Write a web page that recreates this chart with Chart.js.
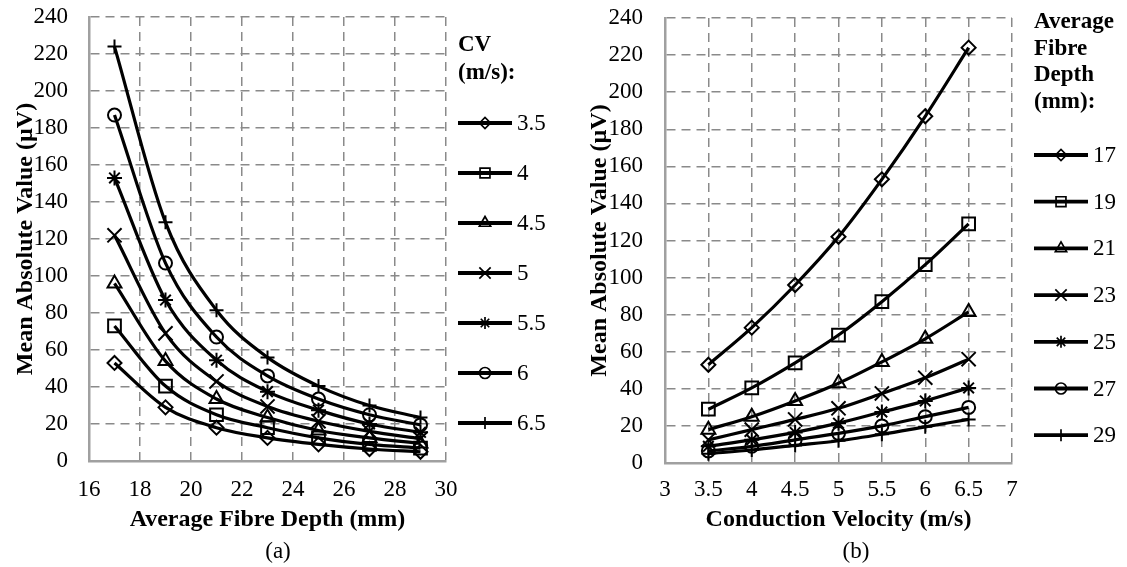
<!DOCTYPE html>
<html>
<head>
<meta charset="utf-8">
<script src="https://cdn.jsdelivr.net/npm/chart.js@4/dist/chart.umd.min.js"></script>
<style>
html,body{margin:0;padding:0;background:#fff;}
#wrap{position:relative;width:1127px;height:567px;overflow:hidden;background:#fff;}
canvas{position:absolute;top:0;}
#ca{left:0;}
#cb{left:563px;}
.cap{position:absolute;top:537px;width:100px;text-align:center;font-family:"Liberation Serif","Times New Roman",serif;font-size:23px;line-height:28px;color:#000;}
</style>
</head>
<body>
<div id="wrap">
<canvas id="ca" width="563" height="567"></canvas>
<canvas id="cb" width="564" height="567"></canvas>
<div class="cap" style="left:228px;">(a)</div>
<div class="cap" style="left:806px;">(b)</div>
</div>
<script>
// ---- data ----
const depths = [17, 19, 21, 23, 25, 27, 29];          // Average fibre depth (mm)
const cvs = [3.5, 4, 4.5, 5, 5.5, 6, 6.5];             // Conduction velocity (m/s)
// Mean absolute value (µV) for each depth, across cvs
const mavDepth17 = [53, 73, 96, 122, 153, 187, 224];
const mavDepth19 = [29, 40.5, 54, 69, 87, 107, 129];
const mavDepth21 = [18, 25, 33.5, 43, 54.5, 67, 81.5];
const mavDepth23 = [12.5, 18, 23.5, 29.5, 37.5, 46, 56];
const mavDepth25 = [9, 12.5, 16.5, 21.5, 27.5, 33.5, 40.5];
const mavDepth27 = [6.5, 9, 12.5, 16, 20, 25, 30];
const mavDepth29 = [5, 7, 9.5, 12, 15.5, 19.5, 23.5];
const mavRows = [mavDepth17, mavDepth19, mavDepth21, mavDepth23, mavDepth25, mavDepth27, mavDepth29];

const xTicksA = [16, 18, 20, 22, 24, 26, 28, 30];
const xTicksB = [3, 3.5, 4, 4.5, 5, 5.5, 6, 6.5, 7];
const yTicks = [0, 20, 40, 60, 80, 100, 120, 140, 160, 180, 200, 220, 240];

const legendTitleA = ['CV', '(m/s):'];
const legendTitleB = ['Average', 'Fibre', 'Depth', '(mm):'];

// ---- styling ----
const FONT = '"Liberation Serif", "Times New Roman", serif';
Chart.defaults.font.family = FONT;
Chart.defaults.color = '#000';
const markers = ['rectRot', 'rect', 'triangle', 'crossRot', 'star', 'circle', 'cross'];
const markerRadius = [7, 9, 8, 10, 7.5, 6.5, 7];
const legendRadius = [5.5, 7, 6.5, 8, 6, 5.5, 6];

function makeDataset(label, pts, i) {
  return {
    label: label,
    data: pts,
    borderColor: '#000',
    borderWidth: 3.2,
    pointStyle: markers[i],
    pointRadius: markerRadius[i],
    pointHoverRadius: markerRadius[i],
    pointBorderColor: '#000',
    pointBackgroundColor: 'rgba(0,0,0,0)',
    pointBorderWidth: 2,
    cubicInterpolationMode: 'monotone',
    fill: false,
    clip: false,
    legendRadius: legendRadius[i]
  };
}

// Chart (a): one series per CV, x = depth
const datasetsA = cvs.map((cv, j) =>
  makeDataset(String(cv), depths.map((d, i) => ({x: d, y: mavRows[i][j]})), j));
// Chart (b): one series per depth, x = CV
const datasetsB = depths.map((d, i) =>
  makeDataset(String(d), cvs.map((cv, j) => ({x: cv, y: mavRows[i][j]})), i));

const sideLegend = {
  id: 'sideLegend',
  afterDraw(chart, args, o) {
    const ctx = chart.ctx;
    const x = chart.chartArea.right + o.dx;
    ctx.save();
    ctx.fillStyle = '#000';
    ctx.textAlign = 'left';
    ctx.textBaseline = 'middle';
    ctx.font = 'bold 23px ' + FONT;
    o.title.forEach((t, k) => ctx.fillText(t, x, o.titleY + k * o.titleGap));
    chart.data.datasets.forEach((ds, k) => {
      const y = o.itemY + k * o.itemGap;
      ctx.setLineDash([]);
      ctx.strokeStyle = '#000';
      ctx.lineWidth = 3.8;
      ctx.beginPath();
      ctx.moveTo(x, y);
      ctx.lineTo(x + 54, y);
      ctx.stroke();
      ctx.lineWidth = 1.7;
      ctx.fillStyle = 'rgba(0,0,0,0)';
      if (Chart.helpers && Chart.helpers.drawPoint) {
        Chart.helpers.drawPoint(ctx, {pointStyle: ds.pointStyle, radius: ds.legendRadius, borderWidth: 1.7, rotation: 0}, x + 27, y);
      }
      ctx.fillStyle = '#000';
      ctx.font = '23px ' + FONT;
      ctx.fillText(ds.label, x + 59, y + 1);
    });
    ctx.restore();
  }
};

function makeOptions(cfg) {
  return {
    responsive: false,
    animation: false,
    devicePixelRatio: 1,
    layout: {autoPadding: false, padding: {left: 0, right: cfg.padRight, top: cfg.padTop, bottom: 30}},
    plugins: {
      legend: {display: false},
      tooltip: {enabled: false},
      sideLegend: cfg.legend
    },
    scales: {
      x: {
        type: 'linear',
        min: cfg.xTicks[0],
        max: cfg.xTicks[cfg.xTicks.length - 1],
        afterBuildTicks: s => { s.ticks = cfg.xTicks.map(v => ({value: v})); },
        afterFit: s => { s.height = cfg.xHeight; s.paddingLeft = 0; s.paddingRight = 0; },
        grid: {color: '#8a8a8a', lineWidth: 1.5, drawTicks: false},
        border: {display: true, color: '#a0a0a0', width: 2.5, dash: [9, 6]},
        ticks: {padding: cfg.xPad, color: '#000', font: {size: 23}, maxRotation: 0, autoSkip: false,
                callback: v => String(v)},
        title: {display: true, text: cfg.xTitle, color: '#000', font: {size: 24, weight: 'bold'},
                padding: {top: 0, bottom: 3.2}}
      },
      y: {
        type: 'linear',
        min: 0,
        max: 240,
        afterBuildTicks: s => { s.ticks = yTicks.map(v => ({value: v})); },
        afterFit: s => { s.width = cfg.yWidth; s.paddingTop = 0; s.paddingBottom = 0; },
        grid: {color: '#8a8a8a', lineWidth: 1.5, drawTicks: false},
        border: {display: true, color: '#a0a0a0', width: 2.5, dash: [9, 6]},
        ticks: {padding: cfg.yPad, color: '#000', font: {size: 23}, autoSkip: false,
                callback: v => String(v)},
        title: {display: true, text: 'Mean Absolute Value (µV)', color: '#000',
                font: {size: 24, weight: 'bold'}, padding: {top: cfg.yTitlePad, bottom: 0}}
      }
    }
  };
}

new Chart(document.getElementById('ca'), {
  type: 'line',
  data: {datasets: datasetsA},
  options: makeOptions({
    padRight: 117, padTop: 17, xPad: 15, xHeight: 76, yPad: 21, yWidth: 89, yTitlePad: 11,
    xTicks: xTicksA, xTitle: 'Average Fibre Depth (mm)',
    legend: {dx: 12, title: legendTitleA, titleY: 45, titleGap: 28, itemY: 123, itemGap: 50}
  }),
  plugins: [sideLegend]
});

new Chart(document.getElementById('cb'), {
  type: 'line',
  data: {datasets: datasetsB},
  options: makeOptions({
    padRight: 115, padTop: 18, xPad: 13, xHeight: 74, yPad: 22, yWidth: 102, yTitlePad: 22,
    xTicks: xTicksB, xTitle: 'Conduction Velocity (m/s)',
    legend: {dx: 22, title: legendTitleB, titleY: 22, titleGap: 26.7, itemY: 155, itemGap: 46.7}
  }),
  plugins: [sideLegend]
});
</script>
</body>
</html>
